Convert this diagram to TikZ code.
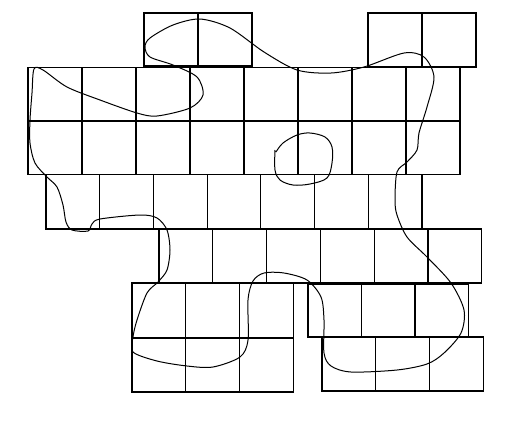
\documentclass[tikz,border=0pt]{standalone}
\begin{document}
\begin{tikzpicture}[x=1pt,y=-1pt,
  cell/.style={draw=black,line width=1.2pt},
  loop/.style={draw=black,line width=1pt,line join=round}]
\useasboundingbox (0,0) rectangle (528,421);
% top blocks
\foreach \x in {144,198} \draw[cell] (\x,13) rectangle ++(54,53);
\foreach \x in {368,422} \draw[cell] (\x,13) rectangle ++(54,54);
% rows 1 and 2
\foreach \k in {0,...,7} {
  \draw[cell] (28+54*\k,67.5) rectangle ++(54,53.5);
  \draw[cell] (28+54*\k,121) rectangle ++(54,53.5);
}
% row 3
\foreach \k in {0,...,6} \draw[cell] (46+53.7*\k,174.5) rectangle ++(53.7,54.5);
% row 4
\foreach \k in {0,...,5} \draw[cell] (159+53.8*\k,229) rectangle ++(53.8,54);
% lower left block
\foreach \k in {0,1,2} {
  \draw[cell] (132+53.7*\k,283) rectangle ++(53.7,55);
  \draw[cell] (132+53.7*\k,338) rectangle ++(53.7,54);
}
% lower right block
\foreach \k in {0,1,2} {
  \draw[cell] (308+53.5*\k,284) rectangle ++(53.5,53);
  \draw[cell] (322+53.7*\k,337) rectangle ++(53.7,54);
}
% big closed curve
\draw[loop] plot[smooth cycle,tension=0.5] coordinates {
(150,57) (145,47) (150,38) (173,25) (200,19) (230,28) (264,52) (297,70) (331,73)
(364,67) (404,53) (424,57) (434,77) (427,107) (419,133) (417,150) (407,162)
(397,172) (395,200) (397,215) (407,237) (427,257) (451,283) (464,310) (461,333)
(444,353) (427,364) (397,370) (351,372) (331,366) (324,353) (324,320) (321,297)
(307,280) (284,273) (264,273) (253,281) (248,300) (248,340) (240,357) (213,367)
(187,366) (157,361) (133,352) (133,337) (137,320) (147,293) (158,282) (167,270)
(170,250) (167,230) (157,218) (140,215) (100,219) (92,224) (88,231) (72,230)
(66,222) (63,205) (57,187) (47,177) (35,163) (30,143) (30,120) (32,93) (34,69)
(43,70) (67,87) (100,100) (137,113) (157,116) (190,108) (203,95) (197,77) (173,65)};
% small loop
\draw[loop] plot[smooth,tension=0.55] coordinates {
(275,150) (275,170) (280,180) (293,185) (310,184) (327,178) (332,163) (332,147)
(325,137) (310,133) (297,135) (283,143) (276,152)};
\end{tikzpicture}
\end{document}
